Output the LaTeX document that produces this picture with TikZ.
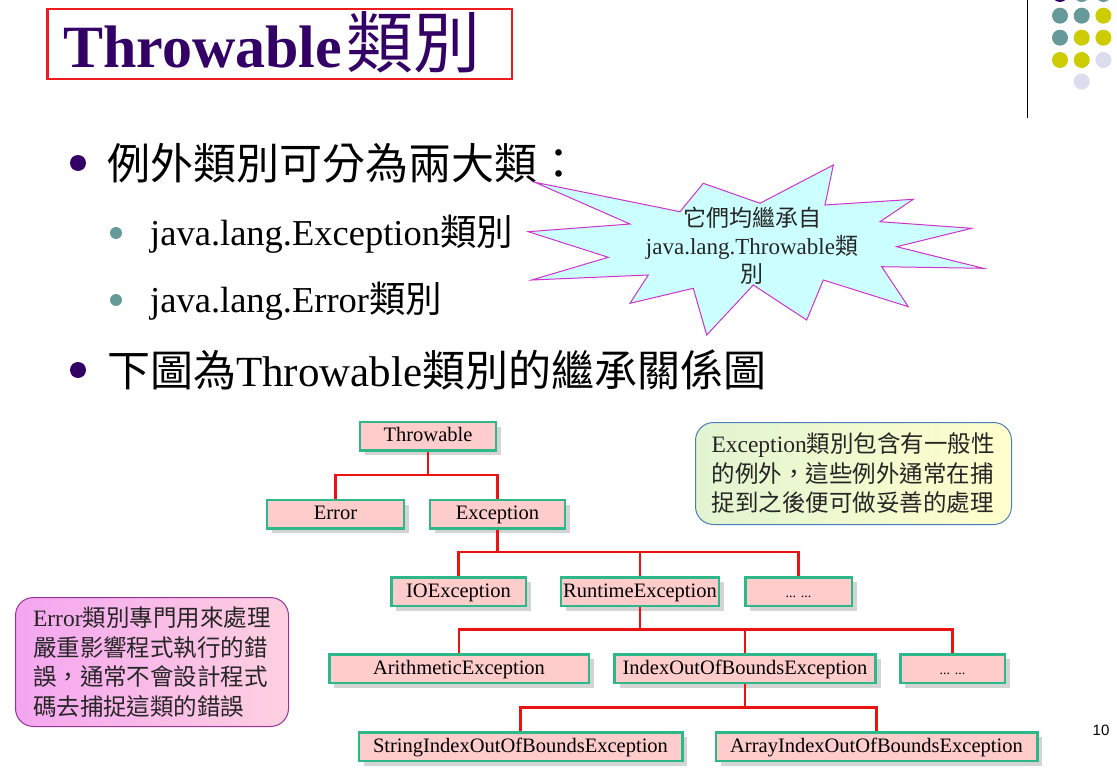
\documentclass[tikz,border=0pt]{standalone}
\usepackage{fontspec}
\setmainfont{Liberation Serif}
\newfontfamily\cjk{Noto Sans CJK TC}
\newfontfamily\pagefont{Liberation Sans}
\usetikzlibrary{shadows}

\definecolor{titleink}{HTML}{330066}
\definecolor{framered}{HTML}{EE1C1C}
\definecolor{dotpurple}{HTML}{330066}
\definecolor{dotteal}{HTML}{669999}
\definecolor{dotyellow}{HTML}{CCCC00}
\definecolor{dotlav}{HTML}{DCDCEE}
\definecolor{burstfill}{HTML}{CCFFFF}
\definecolor{burstline}{HTML}{CC33CC}
\definecolor{boxfill}{HTML}{FFCCCC}
\definecolor{boxline}{HTML}{2EB88A}
\definecolor{linkred}{HTML}{EE1111}
\definecolor{excA}{HTML}{E2F4D2}
\definecolor{excB}{HTML}{FFFFCC}
\definecolor{excline}{HTML}{4A7EBB}
\definecolor{errA}{HTML}{F4A6F0}
\definecolor{errB}{HTML}{FFD0E0}
\definecolor{errline}{HTML}{993399}

\begin{document}
\begin{tikzpicture}[x=1pt,y=-1pt,
  classbox/.style={draw=boxline, line width=2.5pt, fill=boxfill, inner sep=0pt,
    minimum height=28.5pt, text height=15pt, text depth=3.5pt,
    font=\fontsize{20.5}{24}\selectfont,
    drop shadow={shadow xshift=5pt, shadow yshift=-5pt, fill=black!17, opacity=1}},
  link/.style={draw=linkred, line width=2.5pt},
  dot/.style={circle, inner sep=0pt, minimum size=16pt},
  bigbullet/.style={circle, fill=dotpurple, inner sep=0pt, minimum size=16pt},
  smallbullet/.style={circle, fill=dotteal, inner sep=0pt, minimum size=12pt},
  lvlone/.style={anchor=base west, inner sep=0pt, font=\fontsize{43}{50}\selectfont},
  lvltwo/.style={anchor=base west, inner sep=0pt, font=\fontsize{36.5}{42}\selectfont},
  note/.style={rounded corners=18pt, align=left, inner sep=0pt,
    font=\fontsize{23.5}{29.5}\selectfont}
]
\useasboundingbox (0,0) rectangle (1117,784);
\fill[white] (0,0) rectangle (1117,784);

% decorative dot grid and rule, top right
\draw[black, line width=1pt] (1027,0) -- (1027,118);
\foreach \c [count=\i from 0] in {dotpurple,dotteal,dotteal} {
  \node[dot, fill=\c] (r0\i) at (1060+21.7*\i,-6) {};
}
\foreach \c [count=\i from 0] in {dotteal,dotteal,dotyellow} {
  \node[dot, fill=\c] (r1\i) at (1060+21.7*\i,15.7) {};
}
\foreach \c [count=\i from 0] in {dotteal,dotyellow,dotyellow} {
  \node[dot, fill=\c] (r2\i) at (1060+21.7*\i,37.7) {};
}
\foreach \c [count=\i from 0] in {dotyellow,dotyellow,dotlav} {
  \node[dot, fill=\c] (r3\i) at (1060+21.7*\i,60) {};
}
\node[dot, fill=dotlav] (r41) at (1081.7,81.5) {};

% title
\node[draw=framered, line width=2.5pt, minimum width=464.5pt, minimum height=70pt,
  inner sep=0pt] (titlebox) at (279.5,44) {};
\node[anchor=base west, inner sep=0pt, text=titleink] (title) at (63,68)
  {\fontsize{60}{70}\selectfont\bfseries Throwable\hspace{4pt}{\cjk\mdseries\fontsize{67}{70}\selectfont 類別}};

% bullet list
\node[bigbullet] (dotA) at (78,163) {};
\node[lvlone] (itemA) at (107,179) {\cjk 例外類別可分為兩大類：};
\node[smallbullet] (dotA1) at (116,233) {};
\node[lvltwo] (itemA1) at (150,245) {java.lang.Exception{\cjk 類別}};
\node[smallbullet] (dotA2) at (116,300) {};
\node[lvltwo] (itemA2) at (150,312) {java.lang.Error{\cjk 類別}};
\node[bigbullet] (dotB) at (78,370) {};
\node[lvlone] (itemB) at (107,386) {{\cjk 下圖為}Throwable{\cjk 類別的繼承關係圖}};

% starburst callout
\draw[draw=burstline, fill=burstfill, line width=1pt, line join=miter]
  (535,182.3) -- (680,211.7) -- (703.3,183.3) -- (760,203.3) -- (833.3,165)
  -- (825,205) -- (913.3,199.3) -- (880,221.7) -- (971.7,228.3) -- (896.7,246.7)
  -- (983.3,268.3) -- (881.7,266.7) -- (908.3,306.7) -- (823.3,280) -- (806.7,320)
  -- (753.3,285) -- (706.7,335) -- (693.3,288.3) -- (630,303.3) -- (648.3,275)
  -- (531.7,280) -- (608.3,257.3) -- (528.3,231.7) -- (630,224) -- cycle;
\node[align=center, inner sep=0pt, font=\fontsize{23}{28}\selectfont, text=black!85]
  (burst) at (752,246) {{\cjk 它們均繼承自}\\java.lang.Throwable{\cjk 類}\\{\cjk 別}};

% class hierarchy
\node[classbox, minimum width=136pt] (thr) at (428,436) {Throwable};
\node[classbox, minimum width=137pt] (err) at (335.5,514) {Error};
\node[classbox, minimum width=135pt] (exc) at (497.5,514) {Exception};
\node[classbox, minimum width=134.5pt] (io) at (458.5,591.5) {IOException};
\node[classbox, minimum width=158pt] (rt) at (640,591.5) {RuntimeException};
\node[classbox, minimum width=106.5pt] (moreA) at (798.5,591.5) {\fontsize{14}{16}\selectfont ... ...};
\node[classbox, minimum width=259.5pt] (ari) at (459,668.5) {ArithmeticException};
\node[classbox, minimum width=261pt] (idx) at (745,668.5) {IndexOutOfBoundsException};
\node[classbox, minimum width=104.5pt] (moreB) at (952.5,668.5) {\fontsize{14}{16}\selectfont ... ...};
\node[classbox, minimum width=323.5pt] (str) at (520.5,746.5) {StringIndexOutOfBoundsException};
\node[classbox, minimum width=321.5pt] (arr) at (876.5,746.5) {ArrayIndexOutOfBoundsException};

\draw[link] (thr.south) -- ++(0,23.5) coordinate (jA);
\draw[link] (err.north) |- (jA) -| (exc.north);
\draw[link] (exc.south) -- ++(0,22.5) coordinate (jB);
\draw[link] (io.north) |- (jB) -| (moreA.north);
\draw[link] (rt.north) -- (rt.north |- jB);
\draw[link] (rt.south) -- ++(0,22.5) coordinate (jC);
\draw[link] (ari.north) |- (jC) -| (moreB.north);
\draw[link] (idx.north) -- (idx.north |- jC);
\draw[link] (idx.south) -- ++(0,23.5) coordinate (jD);
\draw[link] (str.north) |- (jD) -| (arr.north);

% notes
\node[note, draw=excline, line width=1pt, left color=excA, right color=excB,
  text=black!85, minimum width=316pt, minimum height=102pt, text width=284pt] (excnote) at (853.5,473.5)
  {Exception{\cjk 類別包含有一般性}\\{\cjk 的例外，這些例外通常在捕}\\{\cjk 捉到之後便可做妥善的處理}};
\node[note, draw=errline, line width=1pt, left color=errA, right color=errB,
  text=black!85, minimum width=273pt, minimum height=129pt, text width=238pt] (errnote) at (152,662)
  {Error{\cjk 類別專門用來處理}\\{\cjk 嚴重影響程式執行的錯}\\{\cjk 誤，通常不會設計程式}\\{\cjk 碼去捕捉這類的錯誤}};

% page number
\node[inner sep=0pt, font=\pagefont\fontsize{15}{18}\selectfont] (pageno) at (1101,730) {10};
\end{tikzpicture}
\end{document}
